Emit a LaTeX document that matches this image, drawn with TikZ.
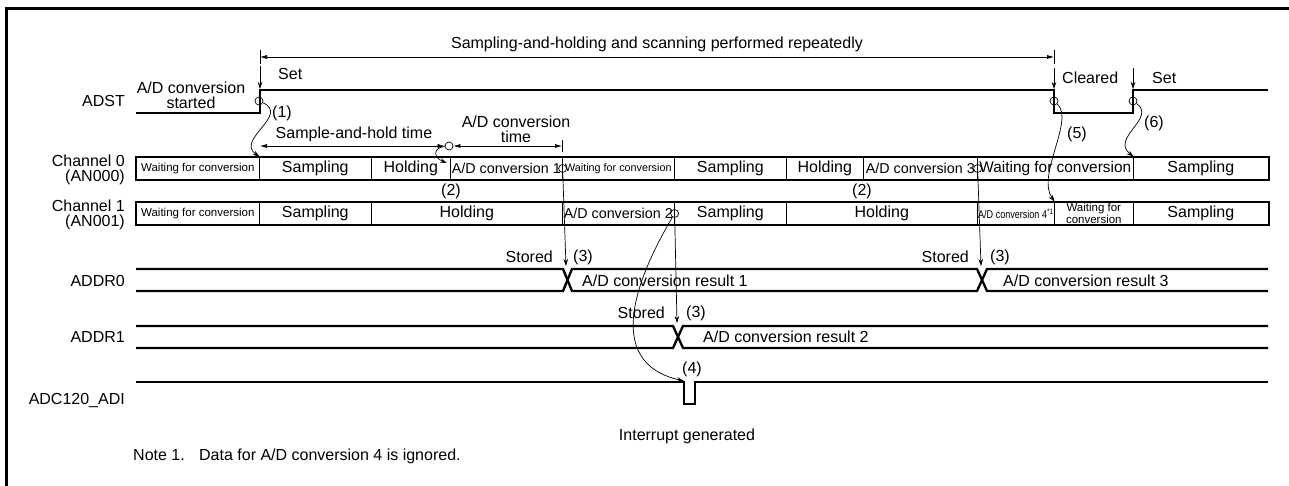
\documentclass[tikz,border=0pt]{standalone}
\usepackage{fontspec}
\setmainfont{Liberation Sans}
\usepackage{graphicx}
\usepackage{tikz}
\usetikzlibrary{arrows.meta, positioning, calc}

\begin{document}
\begin{tikzpicture}[x=1pt, y=-1pt, every node/.style={font=\fontsize{16}{15}\selectfont, inner sep=0pt},
        sig/.style={line width=2.3pt},
        cell/.style={draw, line width=0.6pt, minimum height=23pt, anchor=west},
        small/.style={font=\fontsize{11.5}{9}\selectfont},
        conv/.style={font=\fontsize{14.3}{14}\selectfont},
        ring/.style={circle, draw, line width=0.7pt, minimum size=8pt},
        dim/.style={{Latex[length=7pt,width=4pt]}-{Latex[length=7pt,width=4pt]}, line width=0.6pt},
        link/.style={-{Stealth[length=7pt,width=4.5pt]}, line width=0.7pt}]
        \useasboundingbox (0,0) rectangle (1289,486);
        \draw[line width=3pt] (6.5,486) -- (6.5,8.5) -- (1289,8.5);
        % signal names
        \node[anchor=east] (adst) at (125,101) {ADST};
        \node[anchor=east, align=right] (ch0) at (125,169.5) {Channel 0\\(AN000)};
        \node[anchor=east, align=right] (ch1) at (125,214.5) {Channel 1\\(AN001)};
        \node[anchor=east] (addr0) at (125,281) {ADDR0};
        \node[anchor=east] (addr1) at (125,337) {ADDR1};
        \node[anchor=east] (adi) at (125,401) {ADC120\_ADI};
        % repeated scan span
        \coordinate (rep0) at (260,57);
        \coordinate (rep1) at (1054,57);
        \draw[dim] (rep0) -- (rep1);
        \draw[line width=0.6pt] (260,50) -- (260,64);
        \draw[line width=0.6pt] (1054,50) -- (1054,64);
        \node (reptxt) at (657,44) {Sampling-and-holding and scanning performed repeatedly};
        % ADST
        \draw[sig] (136,113) -- (260,113) -- (260,90) -- (1054,90) -- (1054,113) -- (1133,113) -- (1133,90) -- (1268,90);
        \node[align=center] (start) at (191,95) {A/D conversion\\started};
        \coordinate (set1top) at (260,66);
        \coordinate (set1) at (260,89);
        \coordinate (clrtop) at (1054,68);
        \coordinate (clr) at (1054,89);
        \coordinate (set2top) at (1133,68);
        \coordinate (set2) at (1133,89);
        \draw[link] (set1top) -- (set1);
        \draw[link] (clrtop) -- (clr);
        \draw[link] (set2top) -- (set2);
        \node[anchor=west] (settxt) at (278,74) {Set};
        \node[anchor=west] (clrtxt) at (1062,78) {Cleared};
        \node[anchor=west] (set2txt) at (1152,78) {Set};
        \node[ring] (r1) at (259,101) {};
        \node[ring] (r5) at (1054,101) {};
        \node[ring] (r6) at (1133,101) {};
        % Channel 0
        \node[cell, small, minimum width=123pt] (a1) at (136,168.5) {Waiting for conversion};
        \node[cell, minimum width=112pt] (a2) at (259,168.5) {Sampling};
        \node[cell, minimum width=79pt] (a3) at (371,168.5) {Holding};
        \node[cell, conv, minimum width=112pt] (a4) at (450,168.5) {A/D conversion 1};
        \node[cell, font=\fontsize{10.8}{9}\selectfont, minimum width=112pt] (a5) at (562,168.5) {Waiting for conversion};
        \node[cell, minimum width=112pt] (a6) at (674,168.5) {Sampling};
        \node[cell, minimum width=77pt] (a7) at (786,168.5) {Holding};
        \node[cell, conv, minimum width=114pt] (a8) at (863,168.5) {A/D conversion 3};
        \node[cell, font=\fontsize{15.4}{15}\selectfont, minimum width=156pt] (a9) at (977,168.5) {Waiting for conversion};
        \node[cell, minimum width=135pt] (a10) at (1133,168.5) {Sampling};
        \draw[line width=2pt] (a1.north west) rectangle (a10.south east);
        % Channel 1
        \node[cell, small, minimum width=123pt] (b1) at (136,213.5) {Waiting for conversion};
        \node[cell, minimum width=112pt] (b2) at (259,213.5) {Sampling};
        \node[cell, minimum width=191pt] (b3) at (371,213.5) {Holding};
        \node[cell, conv, minimum width=112pt] (b4) at (562,213.5) {A/D conversion 2};
        \node[cell, minimum width=112pt] (b5) at (674,213.5) {Sampling};
        \node[cell, minimum width=191pt] (b6) at (786,213.5) {Holding};
        \node[cell, minimum width=77pt] (b7) at (977,213.5) {\scalebox{0.8}[1]{\fontsize{11.3}{11}\selectfont A/D conversion 4\textsuperscript{*1}}};
        \node[cell, small, align=center, minimum width=79pt] (b8) at (1054,213.5) {Waiting for\\conversion};
        \node[cell, minimum width=135pt] (b9) at (1133,213.5) {Sampling};
        \draw[line width=2pt] (b1.north west) rectangle (b9.south east);
        \node (n2a) at (451,191) {(2)};
        \node (n2b) at (862,191) {(2)};
        % sample-and-hold and conversion times
        \node[ring] (r2) at (449,146) {};
        \coordinate (sh0) at (260,146);
        \coordinate (cv1) at (562,146);
        \draw[dim] (sh0) -- (r2.west);
        \draw[dim] (r2.east) -- (cv1);
        \draw[line width=0.6pt] (562,140) -- (562,152);
        \node (shtxt) at (354,134) {Sample-and-hold time};
        \node[align=center] (cvtxt) at (516,129) {A/D conversion\\time};
        \coordinate (t2) at (447,163);
        \draw[link] (r2) .. controls (432,148) and (434,158) .. (t2);
        \node (n1) at (282,113) {(1)};
        \draw[link] (r1) .. controls (290,115) and (235,140) .. (a1.north east);
        \node (n5) at (1077,134) {(5)};
        \draw[link] (r5) .. controls (1075,120) and (1036,175) .. (b7.north east);
        \node (n6) at (1154,123) {(6)};
        \draw[link] (r6) .. controls (1157,118) and (1110,138) .. (a9.north east);
        % ADDR0 and ADDR1
        \draw[sig] (136,269) -- (563,269) -- (572,291) -- (977,291) -- (987,269) -- (1268,269);
        \draw[sig] (136,291) -- (563,291) -- (572,269) -- (977,269) -- (987,291) -- (1268,291);
        \draw[sig] (136,326) -- (673,326) -- (683,348) -- (1268,348);
        \draw[sig] (136,348) -- (673,348) -- (683,326) -- (1268,326);
        \node[anchor=west] (res1) at (582,281) {A/D conversion result 1};
        \node[anchor=west] (res3) at (1003,281) {A/D conversion result 3};
        \node[anchor=west] (res2) at (703,337) {A/D conversion result 2};
        \node[anchor=east] (sto1) at (553,257) {Stored};
        \node (n3a) at (583,257) {(3)};
        \node[anchor=east] (sto3) at (969,257) {Stored};
        \node (n3c) at (1000,257) {(3)};
        \node[anchor=east] (sto2) at (665,313) {Stored};
        \node (n3b) at (696,313) {(3)};
        \node[ring] (r3) at (a4.east) {};
        \node[ring] (r7) at (a8.east) {};
        \node[ring] (r4) at (b4.east) {};
        \coordinate (st0) at (566,266);
        \coordinate (st1) at (677,323);
        \coordinate (st2) at (981,266);
        \draw[link] (r3) -- (st0);
        \draw[link] (r4) -- (st1);
        \draw[link] (r7) -- (st2);
        % ADC120_ADI
        \draw[sig] (136,382) -- (684,382) -- (684,404) -- (695,404) -- (695,382) -- (1268,382);
        \coordinate (pul) at (684,381);
        \draw[link] (r4) .. controls (640,272) and (600,362) .. (pul);
        \node (n4) at (692,369) {(4)};
        \node (irq) at (687,436) {Interrupt generated};
        \node[anchor=west] (note) at (133,456) {Note 1.\hspace{0.9em}Data for A/D conversion 4 is ignored.};
    \end{tikzpicture}
\end{document}
